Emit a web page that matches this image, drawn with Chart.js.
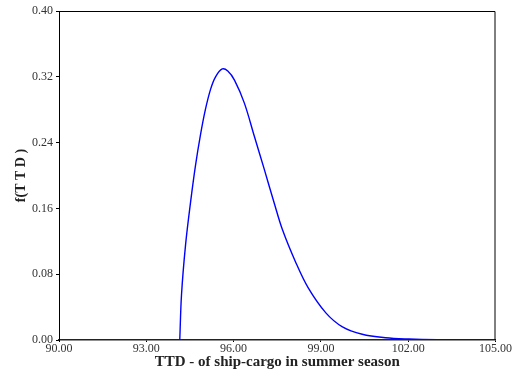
<!DOCTYPE html>
<html>
<head>
<meta charset="utf-8">
<script src="https://cdn.jsdelivr.net/npm/chart.js@4"></script>
<style>
  html, body { margin: 0; padding: 0; background: #fff; }
  #wrap { width: 512px; height: 377px; }
</style>
</head>
<body>
<div id="wrap"><canvas id="pdfChart" width="512" height="377"></canvas></div>
<script>
  // values
  const ttd = [94.15, 94.21, 94.35, 94.53, 94.69, 94.86, 95.03, 95.21, 95.38, 95.61, 95.80,
               96.03, 96.37, 96.71, 97.05, 97.40, 97.68, 98.14, 98.57, 99.17, 99.74,
               100.42, 101.22, 102.02, 103.00, 104.00, 105.00];
  const density = [0.000, 0.055, 0.116, 0.170, 0.212, 0.249, 0.280, 0.305, 0.320, 0.3295, 0.327,
                   0.316, 0.288, 0.248, 0.208, 0.166, 0.134, 0.094, 0.063, 0.033, 0.016,
                   0.007, 0.0028, 0.0012, 0.0003, 0.0001, 0.0];
  const xTicks = [90, 93, 96, 99, 102, 105];
  const yTicks = [0, 0.08, 0.16, 0.24, 0.32, 0.40];

  const points = ttd.map((x, i) => ({ x, y: density[i] }));

  const serif = "'Liberation Serif', 'DejaVu Serif', serif";

  // closes the plot box on top and right
  const frame = {
    id: 'frame',
    afterDraw(chart) {
      const { ctx, chartArea: a } = chart;
      ctx.save();
      ctx.strokeStyle = '#000';
      ctx.lineWidth = 1;
      ctx.beginPath();
      ctx.moveTo(a.left, a.top + 0.5);
      ctx.lineTo(a.right - 0.5, a.top + 0.5);
      ctx.lineTo(a.right - 0.5, a.bottom);
      ctx.stroke();
      ctx.restore();
    }
  };

  new Chart(document.getElementById('pdfChart'), {
    type: 'line',
    data: {
      datasets: [{
        data: points,
        borderColor: '#0000ff',
        borderWidth: 1.4,
        pointRadius: 0,
        fill: false,
        tension: 0.35
      }]
    },
    options: {
      responsive: false,
      animation: false,
      layout: { padding: { top: 11, right: 15, left: 0, bottom: 0 } },
      plugins: { legend: { display: false }, tooltip: { enabled: false } },
      scales: {
        x: {
          type: 'linear',
          min: 90, max: 105,
          afterBuildTicks: s => { s.ticks = xTicks.map(v => ({ value: v })); },
          afterFit: s => { s.height = 37; },
          grid: { display: true, drawOnChartArea: false, tickLength: 2, color: '#000' },
          border: { color: '#222', width: 1.5 },
          ticks: {
            padding: 0,
            color: '#333',
            maxRotation: 0,
            font: { family: serif, size: 12 },
            callback: v => v.toFixed(2)
          },
          title: {
            display: true,
            text: 'TTD - of ship-cargo in summer season',
            color: '#222',
            padding: { top: 0, bottom: 6 },
            font: { family: serif, size: 15, weight: 'bold' }
          }
        },
        y: {
          min: 0, max: 0.40,
          afterBuildTicks: s => { s.ticks = yTicks.map(v => ({ value: v })); },
          afterFit: s => { s.width = 59; },
          grid: { display: true, drawOnChartArea: false, tickLength: 3, color: '#000' },
          border: { color: '#000', width: 1 },
          ticks: {
            padding: 3,
            color: '#333',
            font: { family: serif, size: 12 },
            callback: v => v.toFixed(2)
          },
          title: {
            display: true,
            text: 'f(T T D )',
            color: '#222',
            padding: { top: 13, bottom: 0 },
            font: { family: serif, size: 14, weight: 'bold' }
          }
        }
      }
    },
    plugins: [frame]
  });
</script>
</body>
</html>
